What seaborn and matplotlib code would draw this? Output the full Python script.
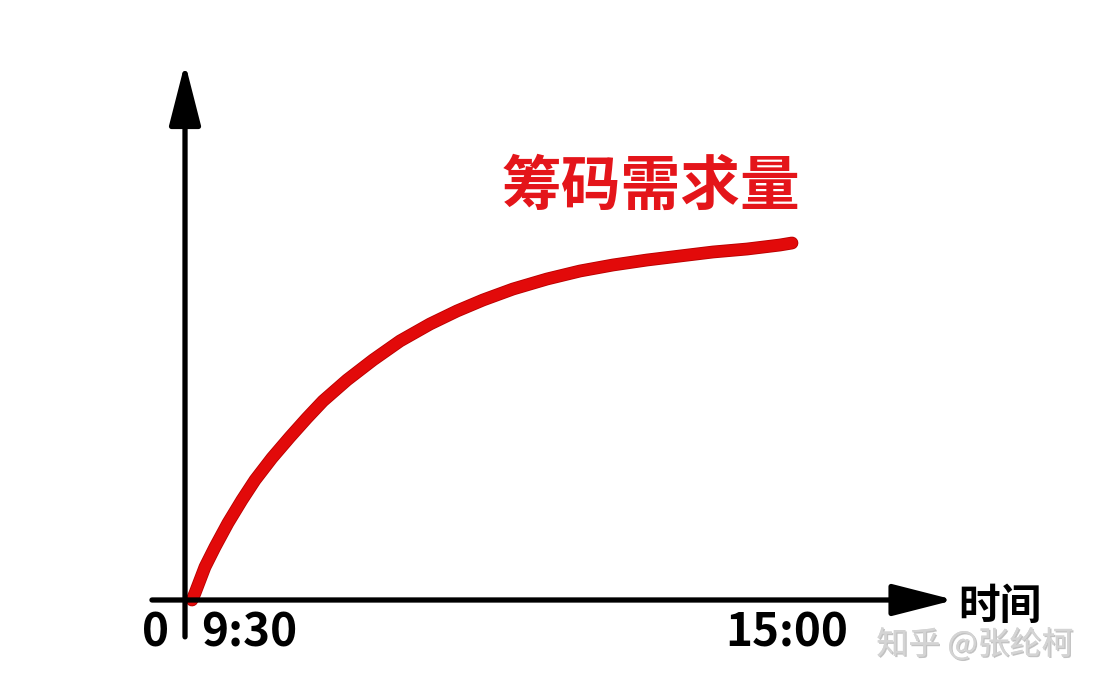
import pandas as pd
import matplotlib.pyplot as plt
import seaborn as sns
from matplotlib import patheffects

# chip demand curve over the trading day (hours, relative demand 0-100)
times = [9.500, 9.528, 9.619, 9.711, 9.830, 9.958, 10.078, 10.233, 10.398,
         10.554, 10.701, 10.921, 11.159, 11.407, 11.682, 11.929, 12.168,
         12.443, 12.754, 13.057, 13.359, 13.671, 13.973, 14.276, 14.588,
         14.890, 15.000]
demand = [0.0, 1.96, 9.22, 14.80, 21.51, 27.93, 33.52, 39.66, 45.53,
          50.84, 55.59, 61.45, 67.04, 72.35, 77.09, 80.73, 83.80,
          86.87, 89.66, 91.90, 93.58, 94.97, 96.09, 97.21, 98.04,
          99.16, 99.72]

series_label = "筹码需求量"
axis_label = "时间"
tick_labels = ["0", "9:30", "15:00"]
watermark = "知乎 @张纶柯"

df = pd.DataFrame({"time": times, "demand": demand})

sns.set_theme(style="white")
plt.rcParams["font.family"] = ["Noto Sans CJK SC", "DejaVu Sans"]

fig = plt.figure(figsize=(11.08, 6.92), dpi=100)
ax = fig.add_axes([0, 0, 1, 1])
ax.set_xlim(7.740, 17.897)
ax.set_ylim(-25.70, 167.6)
ax.axis("off")

# hand drawn style axes with arrow heads
x0 = 9.436
arrow = dict(arrowstyle="-|>,head_length=38,head_width=9.7",
             mutation_scale=1, lw=3.8, color="black", shrinkA=0, shrinkB=0)
ax.annotate("", xy=(x0, 150.0), xytext=(x0, -10.3), arrowprops=arrow)
ax.annotate("", xy=(16.49, 0), xytext=(9.133, 0), arrowprops=arrow)

sns.lineplot(data=df, x="time", y="demand", sort=False, estimator=None,
             color="#e20a0a", lw=8.0, solid_capstyle="round",
             solid_joinstyle="round", ax=ax,
             path_effects=[patheffects.Stroke(linewidth=9.2, foreground="#b80000",
                                              capstyle="round", joinstyle="round"),
                           patheffects.Normal()])

ax.text(13.708, 115.0, series_label, color="#e4151a", fontsize=43,
        fontweight="bold", ha="center", va="center")
ax.text(16.907, -1.9, axis_label, color="black", fontsize=30,
        fontweight="bold", ha="center", va="center")

ax.text(9.17, -13.1, tick_labels[0], color="black", fontsize=33,
        fontweight="bold", ha="center", va="baseline")
ax.text(9.58, -13.1, tick_labels[1], color="black", fontsize=33,
        fontweight="bold", ha="left", va="baseline")
ax.text(14.95, -13.1, tick_labels[2], color="black", fontsize=33,
        fontweight="bold", ha="center", va="baseline")

ax.text(16.678, -12.6, watermark, color="#d4d4d4", fontsize=23,
        ha="center", va="center",
        path_effects=[patheffects.withSimplePatchShadow(offset=(1, -1),
                                                        shadow_rgbFace="#9a9a9a",
                                                        alpha=0.6),
                      patheffects.Normal()])

fig.savefig("out.png", dpi=100)
